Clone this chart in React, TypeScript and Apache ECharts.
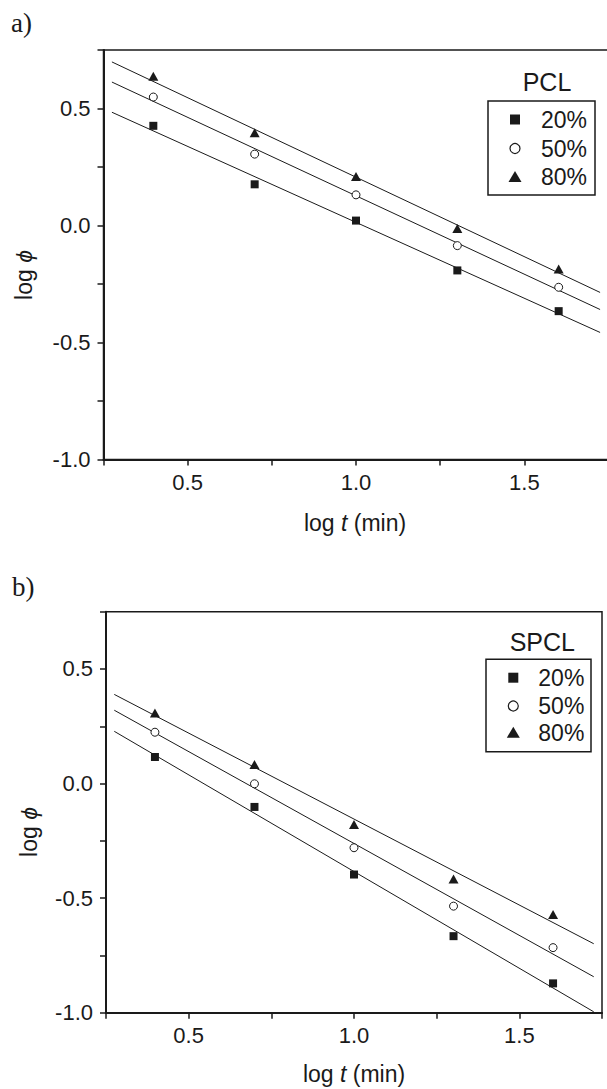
import React, { useEffect, useRef } from "react";
import * as echarts from "echarts";

// ---- data ----
const logT = [0.398, 0.699, 1.0, 1.301, 1.602];
const seriesNames = ["20%", "50%", "80%"];
const pcl20 = [0.426, 0.176, 0.021, -0.192, -0.366];
const pcl50 = [0.549, 0.305, 0.131, -0.086, -0.264];
const pcl80 = [0.638, 0.396, 0.209, -0.013, -0.186];
const spcl20 = [0.116, -0.102, -0.397, -0.666, -0.872];
const spcl50 = [0.224, -0.001, -0.28, -0.535, -0.716];
const spcl80 = [0.308, 0.083, -0.179, -0.416, -0.571];
// fitted straight lines: end points
const fitX = [0.275, 1.725];
const pclFit20 = [0.484, -0.457];
const pclFit50 = [0.613, -0.359];
const pclFit80 = [0.699, -0.286];
const spclFit20 = [0.228, -0.996];
const spclFit50 = [0.32, -0.843];
const spclFit80 = [0.389, -0.699];
const xTickLabels = ["0.5", "1.0", "1.5"];
const yTickLabels = ["-1.0", "-0.5", "0.0", "0.5"];
const panelTitles = ["PCL", "SPCL"];
const panelLetters = ["a)", "b)"];

const INK = "#1a1a1a";
const FONT = "Liberation Sans, Arial, sans-serif";
const TICK_FS = 22;
const TITLE_FS = 23;

function pairs(xs: number[], ys: number[]) {
  return xs.map((x, i) => [x, ys[i]]);
}

export default function App() {
  const ref = useRef<HTMLDivElement>(null);
  useEffect(() => {
    if (!ref.current) return;
    const chart = echarts.init(ref.current, null, { renderer: "svg" });

    const grids = [
      { left: 103.5, top: 50, width: 505, height: 409.5 },
      { left: 106, top: 611.7, width: 496, height: 401 },
    ];

    const makeX = (gi: number) => ({
      type: "value",
      gridIndex: gi,
      min: 0.25,
      max: 1.75,
      interval: 0.25,
      splitLine: { show: false },
      axisLine: { show: true, onZero: false, lineStyle: { color: INK, width: 2 } },
      axisTick: { show: true, inside: false, length: 6, lineStyle: { color: INK, width: 1.5 } },
      axisLabel: {
        show: true,
        margin: 12,
        fontSize: TICK_FS,
        fontFamily: FONT,
        color: INK,
        showMinLabel: true,
        showMaxLabel: true,
        formatter: (v: number) => {
          const s = v.toFixed(1);
          return xTickLabels.includes(s) ? s : "";
        },
      },
    });
    const makeY = (gi: number) => ({
      type: "value",
      gridIndex: gi,
      min: -1,
      max: 0.75,
      interval: 0.25,
      splitLine: { show: false },
      axisLine: { show: true, onZero: false, lineStyle: { color: INK, width: 2 } },
      axisTick: { show: true, inside: false, length: 6, lineStyle: { color: INK, width: 1.5 } },
      axisLabel: {
        show: true,
        margin: 13,
        fontSize: TICK_FS,
        fontFamily: FONT,
        color: INK,
        showMinLabel: true,
        showMaxLabel: true,
        formatter: (v: number) => {
          const s = v.toFixed(1);
          return yTickLabels.includes(s) ? s : "";
        },
      },
    });

    const symbols = ["rect", "circle", "triangle"];
    const symbolSizes: any[] = [8, 8, [10, 9]];
    const symbolStyles = [
      { color: INK, opacity: 1 },
      { color: "#fff", borderColor: INK, borderWidth: 1, opacity: 1 },
      { color: INK, opacity: 1 },
    ];

    const panelData = [
      { pts: [pcl20, pcl50, pcl80], fits: [pclFit20, pclFit50, pclFit80] },
      { pts: [spcl20, spcl50, spcl80], fits: [spclFit20, spclFit50, spclFit80] },
    ];

    const series: any[] = [];
    panelData.forEach((p, gi) => {
      p.fits.forEach((f, k) => {
        series.push({
          type: "line",
          name: "fit " + seriesNames[k],
          xAxisIndex: gi,
          yAxisIndex: gi,
          data: pairs(fitX, f),
          symbol: "none",
          lineStyle: { color: INK, width: 1 },
          silent: true,
        });
      });
      p.pts.forEach((ys, k) => {
        series.push({
          type: "scatter",
          name: seriesNames[k],
          xAxisIndex: gi,
          yAxisIndex: gi,
          data: pairs(logT, ys),
          symbol: symbols[k],
          symbolSize: symbolSizes[k],
          itemStyle: symbolStyles[k],
          z: 5,
        });
      });
    });

    // legends, titles, axis names as graphic
    const legendCfg = [
      { box: [488, 101, 107, 94], title: [547, 82], symX: 515, rows: [119.5, 148.5, 177], textX: 541 },
      { box: [486, 659.3, 105, 92.4], title: [542.3, 642], symX: 513.3, rows: [677.7, 706, 732.7], textX: 538.3 },
    ];
    const graphic: any[] = [];
    legendCfg.forEach((L, gi) => {
      graphic.push({
        type: "rect",
        shape: { x: L.box[0], y: L.box[1], width: L.box[2], height: L.box[3] },
        style: { fill: "#fff", stroke: INK, lineWidth: 1.5 },
        z: 10,
      });
      graphic.push({
        type: "text",
        x: L.title[0],
        y: L.title[1],
        style: {
          text: panelTitles[gi],
          fontSize: 25,
          fontFamily: FONT,
          fill: INK,
          textAlign: "center",
          textVerticalAlign: "middle",
        },
        z: 10,
      });
      L.rows.forEach((ry, k) => {
        if (k === 0) {
          graphic.push({
            type: "rect",
            shape: { x: L.symX - 5, y: ry - 5, width: 10, height: 10 },
            style: { fill: INK },
            z: 11,
          });
        } else if (k === 1) {
          graphic.push({
            type: "circle",
            shape: { cx: L.symX, cy: ry, r: 5 },
            style: { fill: "#fff", stroke: INK, lineWidth: 1.2 },
            z: 11,
          });
        } else {
          graphic.push({
            type: "polygon",
            shape: { points: [[L.symX, ry - 6], [L.symX + 6.5, ry + 5], [L.symX - 6.5, ry + 5]] },
            style: { fill: INK },
            z: 11,
          });
        }
        graphic.push({
          type: "text",
          x: L.textX,
          y: ry,
          style: {
            text: seriesNames[k],
            fontSize: 23,
            fontFamily: FONT,
            fill: INK,
            textAlign: "left",
            textVerticalAlign: "middle",
          },
          z: 11,
        });
      });
    });

    // panel letters
    const letterPos = [[11, 23], [12, 587]];
    panelLetters.forEach((t, i) => {
      graphic.push({
        type: "text",
        x: letterPos[i][0],
        y: letterPos[i][1],
        style: {
          text: t,
          fontSize: 27,
          fontFamily: "Liberation Serif, Times New Roman, serif",
          fill: INK,
          textAlign: "left",
          textVerticalAlign: "middle",
        },
      });
    });

    // axis titles
    const yTitlePos = [[24, 275], [29, 832]];
    const xTitlePos = [[355, 523], [354, 1074]];
    [0, 1].forEach((i) => {
      graphic.push({
        type: "text",
        x: yTitlePos[i][0],
        y: yTitlePos[i][1],
        rotation: Math.PI / 2,
        style: {
          text: "{a|log }{b|ϕ}",
          textAlign: "center",
          textVerticalAlign: "middle",
          rich: {
            a: { fontSize: TITLE_FS, fontFamily: FONT, fill: INK, color: INK },
            b: { fontSize: TITLE_FS, fontFamily: FONT, fontStyle: "italic", fill: INK, color: INK },
          },
        },
      });
      graphic.push({
        type: "text",
        x: xTitlePos[i][0],
        y: xTitlePos[i][1],
        style: {
          text: "{a|log }{b|t}{a| (min)}",
          textAlign: "center",
          textVerticalAlign: "middle",
          rich: {
            a: { fontSize: TITLE_FS, fontFamily: FONT, fill: INK, color: INK },
            b: { fontSize: TITLE_FS, fontFamily: FONT, fontStyle: "italic", fill: INK, color: INK },
          },
        },
      });
    });

    chart.setOption({
      animation: false,
      backgroundColor: "#fff",
      grid: grids.map((g) => ({
        ...g,
        show: true,
        borderColor: INK,
        borderWidth: 1.5,
        backgroundColor: "transparent",
        containLabel: false,
        outerBoundsMode: "none",
      })),
      xAxis: [makeX(0), makeX(1)],
      yAxis: [makeY(0), makeY(1)],
      series,
      graphic,
    });
    return () => chart.dispose();
  }, []);

  return (
    <div
      style={{ position: "absolute", left: 0, top: 0, width: 607, height: 1089, overflow: "hidden", background: "#fff" }}
    >
      <div ref={ref} style={{ width: 625, height: 1089 }} />
    </div>
  );
}
